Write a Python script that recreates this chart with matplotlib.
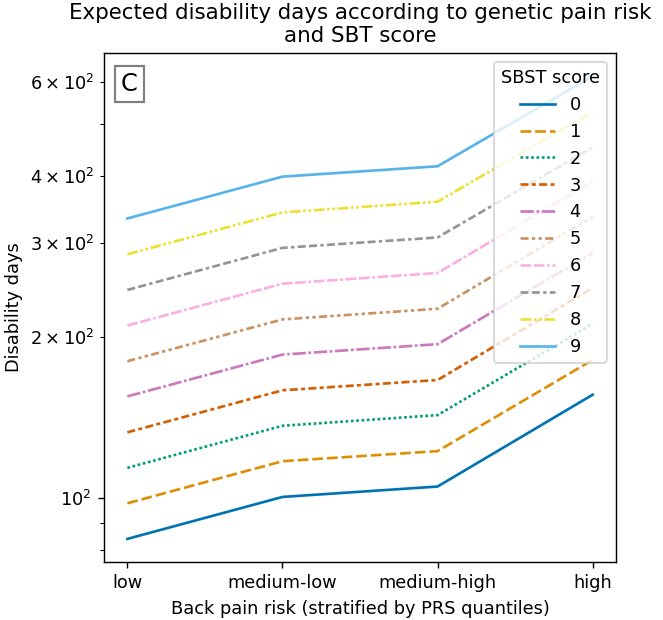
import matplotlib
matplotlib.use("Agg")
import matplotlib.pyplot as plt

categories = ["low", "medium-low", "medium-high", "high"]
scores = [0, 1, 2, 3, 4, 5, 6, 7, 8, 9]

s0 = [84.0, 100.6, 105.2, 156.1]
s1 = [97.9, 117.3, 122.5, 181.3]
s2 = [114.0, 136.6, 143.0, 211.8]
s3 = [132.8, 159.1, 166.3, 247.0]
s4 = [155.0, 185.5, 194.0, 287.2]
s5 = [180.3, 215.8, 225.9, 335.5]
s6 = [210.2, 251.6, 263.5, 390.1]
s7 = [244.9, 293.5, 306.9, 452.3]
s8 = [285.5, 341.8, 357.9, 527.0]
s9 = [333.0, 398.6, 416.8, 614.0]
series = [s0, s1, s2, s3, s4, s5, s6, s7, s8, s9]

colors = ["#0173B2", "#DE8F05", "#029E73", "#D55E00", "#CC78BC",
          "#CA9161", "#FBAFE4", "#949494", "#ECE133", "#56B4E9"]
dashes = [(), (4, 1.5), (1, 1), (3, 1.25, 1.5, 1.25), (5, 1, 1, 1),
          (3, 1.25, 1.25, 1.25, 1.25, 1.25), (4, 1, 4, 1, 1, 1),
          (3, 1.25, 3, 1.25, 1.25, 1.25), (4, 1, 1, 1, 1, 1), ()]

plt.rcParams["font.family"] = ["DejaVu Sans"]
plt.rcParams["font.size"] = 10

DPI = 128
fig = plt.figure(figsize=(663 / DPI, 620 / DPI), dpi=DPI)
ax = fig.add_axes([0.157, 0.0935, 0.772, 0.821])

for sc, vals, c, d in zip(scores, series, colors, dashes):
    line, = ax.plot(categories, vals, color=c, lw=1.5, label=str(sc))
    if d:
        line.set_dashes(d)

ax.set_yscale("log")
ax.set_xlabel("Back pain risk (stratified by PRS quantiles)")
ax.set_ylabel("Disability days")
ax.set_title("Expected disability days according to genetic pain risk\nand SBT score")
ax.legend(title="SBST score", loc="upper right")
ax.text(0.033, 0.962, "C", transform=ax.transAxes, fontsize=13.5, va="top", ha="left",
        bbox=dict(boxstyle="square,pad=0.25", facecolor="white", edgecolor="grey", lw=1.2))

fig.savefig("out.png", dpi=DPI)
